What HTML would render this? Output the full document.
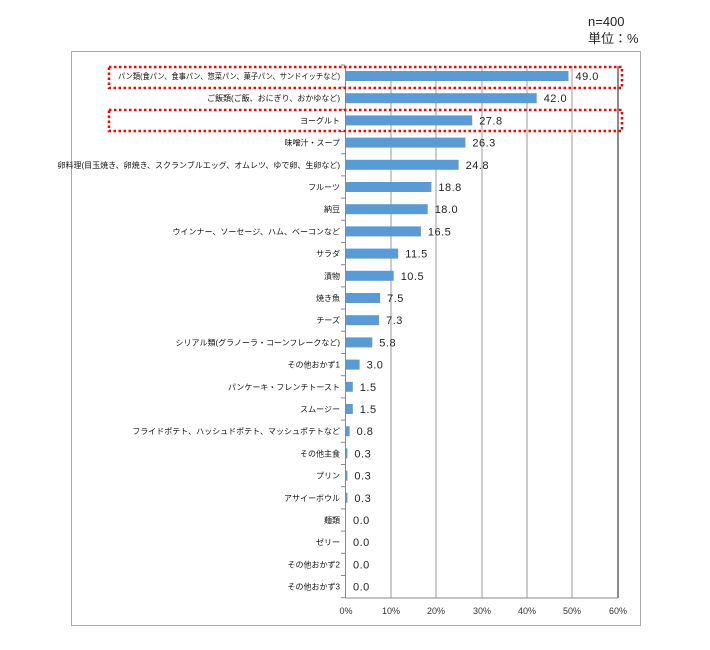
<!DOCTYPE html><html><head><meta charset="utf-8"><style>body{margin:0;background:#fff}svg{display:block}</style></head><body>
<svg width="710" height="650" xmlns="http://www.w3.org/2000/svg" font-family="'Liberation Sans','Noto Sans CJK JP',sans-serif">
<text x="588" y="26" font-size="13" fill="#222">n=400</text>
<text x="588" y="43" font-size="13" fill="#222">単位：%</text>
<rect x="71.5" y="51.5" width="569" height="574" fill="none" stroke="#aaa"/>
<g stroke="#999" stroke-width="1">
<line x1="391" y1="66" x2="391" y2="598"/><line x1="436" y1="66" x2="436" y2="598"/><line x1="482" y1="66" x2="482" y2="598"/><line x1="527" y1="66" x2="527" y2="598"/><line x1="572" y1="66" x2="572" y2="598"/>
</g>
<line x1="618" y1="66" x2="618" y2="598" stroke="#666" stroke-width="1.5"/>
<line x1="345.5" y1="66" x2="345.5" y2="598" stroke="#888"/>
<line x1="345.5" y1="598" x2="618" y2="598" stroke="#888"/>
<g stroke="#888">
<line x1="341" y1="65" x2="345" y2="65"/><line x1="341" y1="87.1" x2="345" y2="87.1"/><line x1="341" y1="109.3" x2="345" y2="109.3"/><line x1="341" y1="131.5" x2="345" y2="131.5"/><line x1="341" y1="153.7" x2="345" y2="153.7"/><line x1="341" y1="175.9" x2="345" y2="175.9"/><line x1="341" y1="198.1" x2="345" y2="198.1"/><line x1="341" y1="220.3" x2="345" y2="220.3"/><line x1="341" y1="242.5" x2="345" y2="242.5"/><line x1="341" y1="264.7" x2="345" y2="264.7"/><line x1="341" y1="286.9" x2="345" y2="286.9"/><line x1="341" y1="309.1" x2="345" y2="309.1"/><line x1="341" y1="331.3" x2="345" y2="331.3"/><line x1="341" y1="353.5" x2="345" y2="353.5"/><line x1="341" y1="375.7" x2="345" y2="375.7"/><line x1="341" y1="397.9" x2="345" y2="397.9"/><line x1="341" y1="420.1" x2="345" y2="420.1"/><line x1="341" y1="442.3" x2="345" y2="442.3"/><line x1="341" y1="464.5" x2="345" y2="464.5"/><line x1="341" y1="486.7" x2="345" y2="486.7"/><line x1="341" y1="508.9" x2="345" y2="508.9"/><line x1="341" y1="531.1" x2="345" y2="531.1"/><line x1="341" y1="553.3" x2="345" y2="553.3"/><line x1="341" y1="575.5" x2="345" y2="575.5"/><line x1="341" y1="597.7" x2="345" y2="597.7"/>
</g>
<g fill="#5b9bd5">
<rect x="346" y="71" width="222.5" height="10"/>
<rect x="346" y="93.2" width="190.7" height="10"/>
<rect x="346" y="115.4" width="126.2" height="10"/>
<rect x="346" y="137.6" width="119.4" height="10"/>
<rect x="346" y="159.8" width="112.6" height="10"/>
<rect x="346" y="182" width="85.4" height="10"/>
<rect x="346" y="204.2" width="81.7" height="10"/>
<rect x="346" y="226.4" width="74.9" height="10"/>
<rect x="346" y="248.6" width="52.2" height="10"/>
<rect x="346" y="270.8" width="47.7" height="10"/>
<rect x="346" y="293" width="34.1" height="10"/>
<rect x="346" y="315.2" width="33.1" height="10"/>
<rect x="346" y="337.4" width="26.3" height="10"/>
<rect x="346" y="359.6" width="13.6" height="10"/>
<rect x="346" y="381.8" width="6.8" height="10"/>
<rect x="346" y="404" width="6.8" height="10"/>
<rect x="346" y="426.2" width="3.6" height="10"/>
<rect x="346" y="448.4" width="1.4" height="10"/>
<rect x="346" y="470.6" width="1.4" height="10"/>
<rect x="346" y="492.8" width="1.4" height="10"/>
</g>
<g font-size="8" text-anchor="end" fill="#111">
<text x="340" y="79" textLength="222" lengthAdjust="spacingAndGlyphs">パン類(食パン、食事パン、惣菜パン、菓子パン、サンドイッチなど)</text>
<text x="340" y="101.2">ご飯類(ご飯、おにぎり、おかゆなど)</text>
<text x="340" y="123.4">ヨーグルト</text>
<text x="340" y="145.6">味噌汁・スープ</text>
<text x="340" y="167.8">卵料理(目玉焼き、卵焼き、スクランブルエッグ、オムレツ、ゆで卵、生卵など)</text>
<text x="340" y="190">フルーツ</text>
<text x="340" y="212.2">納豆</text>
<text x="340" y="234.4">ウインナー、ソーセージ、ハム、ベーコンなど</text>
<text x="340" y="256.6">サラダ</text>
<text x="340" y="278.8">漬物</text>
<text x="340" y="301">焼き魚</text>
<text x="340" y="323.2">チーズ</text>
<text x="340" y="345.4">シリアル類(グラノーラ・コーンフレークなど)</text>
<text x="340" y="367.6">その他おかず1</text>
<text x="340" y="389.8">パンケーキ・フレンチトースト</text>
<text x="340" y="412">スムージー</text>
<text x="340" y="434.2">フライドポテト、ハッシュドポテト、マッシュポテトなど</text>
<text x="340" y="456.4">その他主食</text>
<text x="340" y="478.6">プリン</text>
<text x="340" y="500.8">アサイーボウル</text>
<text x="340" y="523">麺類</text>
<text x="340" y="545.2">ゼリー</text>
<text x="340" y="567.4">その他おかず2</text>
<text x="340" y="589.6">その他おかず3</text>
</g>
<g font-size="11" fill="#222" letter-spacing="0.5">
<text x="575.5" y="80">49.0</text>
<text x="543.7" y="102.2">42.0</text>
<text x="479.2" y="124.4">27.8</text>
<text x="472.4" y="146.6">26.3</text>
<text x="465.6" y="168.8">24.8</text>
<text x="438.4" y="191">18.8</text>
<text x="434.7" y="213.2">18.0</text>
<text x="427.9" y="235.4">16.5</text>
<text x="405.2" y="257.6">11.5</text>
<text x="400.7" y="279.8">10.5</text>
<text x="387.1" y="302">7.5</text>
<text x="386.1" y="324.2">7.3</text>
<text x="379.3" y="346.4">5.8</text>
<text x="366.6" y="368.6">3.0</text>
<text x="359.8" y="390.8">1.5</text>
<text x="359.8" y="413">1.5</text>
<text x="356.6" y="435.2">0.8</text>
<text x="354.4" y="457.4">0.3</text>
<text x="354.4" y="479.6">0.3</text>
<text x="354.4" y="501.8">0.3</text>
<text x="353" y="524">0.0</text>
<text x="353" y="546.2">0.0</text>
<text x="353" y="568.4">0.0</text>
<text x="353" y="590.6">0.0</text>
</g>
<g font-size="9" fill="#333" text-anchor="middle">
<text x="346" y="614">0%</text><text x="391" y="614">10%</text><text x="436" y="614">20%</text><text x="482" y="614">30%</text><text x="527" y="614">40%</text><text x="572" y="614">50%</text><text x="618" y="614">60%</text>
</g>
<rect x="109" y="67" width="513" height="21" fill="none" stroke="#f00" stroke-width="2.5" stroke-dasharray="2.5,2.5"/>
<rect x="109" y="110" width="513" height="21" fill="none" stroke="#f00" stroke-width="2.5" stroke-dasharray="2.5,2.5"/>
</svg></body></html>
